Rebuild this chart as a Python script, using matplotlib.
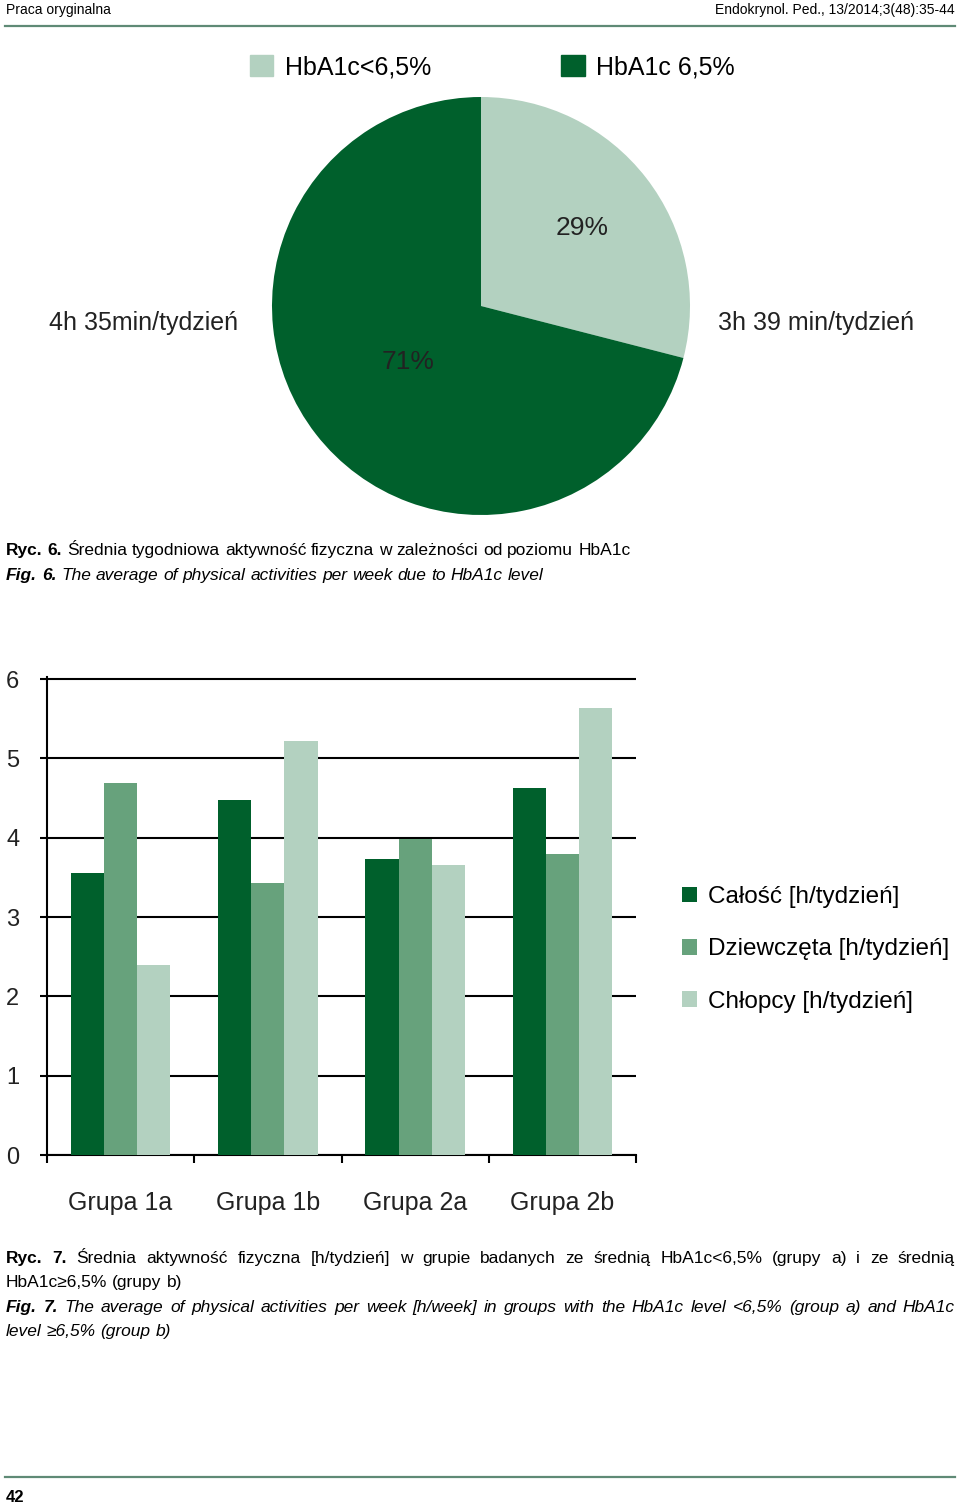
import matplotlib
matplotlib.use('Agg')
import matplotlib.pyplot as plt
from matplotlib.patches import Patch
import numpy as np

W, H = 960, 1506

# --- Ryc. 6 (pie) ---
pie_labels = ['HbA1c<6,5%', 'HbA1c 6,5%']
pie_shares = [29, 71]
pie_times = ['3h 39 min/tydzień', '4h 35min/tydzień']

# --- Ryc. 7 (bars) ---
groups = ['Grupa 1a', 'Grupa 1b', 'Grupa 2a', 'Grupa 2b']
series = ['Całość [h/tydzień]', 'Dziewczęta [h/tydzień]', 'Chłopcy [h/tydzień]']
calosc = [3.55, 4.47, 3.73, 4.63]
dziewczeta = [4.69, 3.43, 3.98, 3.79]
chlopcy = [2.40, 5.22, 3.65, 5.64]
y_ticks = [0, 1, 2, 3, 4, 5, 6]

DARK = '#00602c'
MID = '#67a27c'
LIGHT = '#b3d1c0'
RULE = '#5f8a76'

CHART_FONT = ['Liberation Sans', 'DejaVu Sans']
CAP_FONT = ['Liberation Sans Narrow', 'Liberation Sans', 'DejaVu Sans']
CAP_SIZE = 12.5

fig = plt.figure(figsize=(W / 100, H / 100), dpi=100)
renderer = fig.canvas.get_renderer()


def put(x, y, s, **kw):
    return fig.text(x / W, 1 - y / H, s, **kw)


def width_px(t):
    return t.get_window_extent(renderer).width


def caption_line(y, words, size=CAP_SIZE, x0=6, x1=None):
    """words: list of (text, weight, style); justify to x1 if given"""
    texts = [put(0, y, w, fontsize=size, fontweight=wt, fontstyle=st,
                 family=CAP_FONT, va='baseline', ha='left')
             for w, wt, st in words]
    widths = [width_px(t) for t in texts]
    a = put(0, 0, 'x x', fontsize=size, family=CAP_FONT)
    b = put(0, 0, 'xx', fontsize=size, family=CAP_FONT)
    space = width_px(a) - width_px(b)
    a.remove(); b.remove()
    if x1 is not None and len(words) > 1:
        gap = (x1 - x0 - sum(widths)) / (len(words) - 1)
    else:
        gap = space
    x = x0
    for t, w in zip(texts, widths):
        t.set_x(x / W)
        x += w + gap


def words_of(s, weight='normal', style='normal'):
    return [(w, weight, style) for w in s.split()]


# header / footer
put(6, 14, 'Praca oryginalna', fontsize=10, family=CAP_FONT, va='baseline')
put(955, 14, 'Endokrynol. Ped., 13/2014;3(48):35-44', fontsize=10,
    family=CAP_FONT, va='baseline', ha='right')
fig.add_artist(plt.Line2D([5 / W, 955 / W], [1 - 26 / H] * 2, color=RULE, lw=1.6))
fig.add_artist(plt.Line2D([5 / W, 955 / W], [1 - 1477 / H] * 2, color=RULE, lw=1.6))
put(6, 1502, '42', fontsize=12, fontweight='bold', family=CAP_FONT, va='baseline')

# --- pie ---
pax = fig.add_axes([(481 - 209) / W, 1 - (306 + 209) / H, 418 / W, 418 / H])
wedges, _ = pax.pie(pie_shares, colors=[LIGHT, DARK], startangle=90,
                    counterclock=False, radius=1)
pax.set_xlim(-1, 1)
pax.set_ylim(-1, 1)
for w, share, dist in zip(wedges, pie_shares, [0.61, 0.44]):
    ang = np.deg2rad((w.theta1 + w.theta2) / 2)
    pax.text(dist * np.cos(ang), dist * np.sin(ang), f'{share}%',
             ha='center', va='center', fontsize=19, family=CHART_FONT,
             color='#222222')
put(718, 323, pie_times[0], fontsize=18, family=CHART_FONT, va='center',
    ha='left', color='#222222')
put(238, 323, pie_times[1], fontsize=18, family=CHART_FONT, va='center',
    ha='right', color='#222222')

fig.legend([Patch(color=LIGHT), Patch(color=DARK)], pie_labels,
           loc='center', bbox_to_anchor=(492 / W, 1 - 67 / H), ncol=2,
           frameon=False, handlelength=0.95, handleheight=0.95,
           handletextpad=0.45, columnspacing=5.2, borderpad=0,
           prop={'family': CHART_FONT, 'size': 18})

# --- bars ---
ax = fig.add_axes([47 / W, 1 - 1155 / H, (636 - 47) / W, (1155 - 679) / H * 6.02 / 6])
x = np.arange(len(groups))
bw = 0.225
for k, (vals, col) in enumerate(zip([calosc, dziewczeta, chlopcy], [DARK, MID, LIGHT])):
    ax.bar(x + (k - 1) * bw, vals, width=bw, color=col, label=series[k], zorder=3)
ax.set_xlim(-0.5, len(groups) - 0.5)
ax.set_ylim(0, 6.02)
ax.set_yticks(y_ticks)
ax.set_yticklabels([str(v) for v in y_ticks], family=CHART_FONT, fontsize=17,
                   color='#222222')
ax.yaxis.grid(True, color='black', lw=1.5)
ax.set_axisbelow(True)
for s in ['top', 'right']:
    ax.spines[s].set_visible(False)
for s in ['left', 'bottom']:
    ax.spines[s].set_linewidth(1.5)
ax.set_xticks(np.arange(len(groups) + 1) - 0.5)
ax.set_xticklabels([])
ax.set_xticks(x, minor=True)
ax.set_xticklabels(groups, minor=True, family=CHART_FONT, fontsize=18,
                   color='#222222')
ax.tick_params(axis='x', which='major', length=6, width=1.5, direction='out')
ax.tick_params(axis='x', which='minor', length=0, pad=26)
ax.tick_params(axis='y', length=5, width=1.5, pad=15)

ax.legend(loc='upper left', bbox_to_anchor=(682 / W, 1 - 886 / H),
          bbox_transform=fig.transFigure, frameon=False,
          prop={'family': CHART_FONT, 'size': 17.5}, handlelength=0.6,
          handleheight=0.6, handletextpad=0.45, labelspacing=1.25,
          borderpad=0, borderaxespad=0)

# --- captions ---
caption_line(555, words_of('Ryc. 6.', 'bold') +
             words_of('Średnia tygodniowa aktywność fizyczna w zależności od poziomu HbA1c'))
caption_line(580, words_of('Fig. 6.', 'bold', 'italic') +
             words_of('The average of physical activities per week due to HbA1c level',
                      'normal', 'italic'))
caption_line(1263, words_of('Ryc. 7.', 'bold') +
             words_of('Średnia aktywność fizyczna [h/tydzień] w grupie badanych ze średnią '
                      'HbA1c<6,5% (grupy a) i ze średnią'), x1=955)
caption_line(1287, words_of('HbA1c≥6,5% (grupy b)'))
caption_line(1312, words_of('Fig. 7.', 'bold', 'italic') +
             words_of('The average of physical activities per week [h/week] in groups with '
                      'the HbA1c level <6,5% (group a) and HbA1c', 'normal', 'italic'), x1=955)
caption_line(1336, words_of('level ≥6,5% (group b)', 'normal', 'italic'))

fig.savefig('out.png', dpi=100)
